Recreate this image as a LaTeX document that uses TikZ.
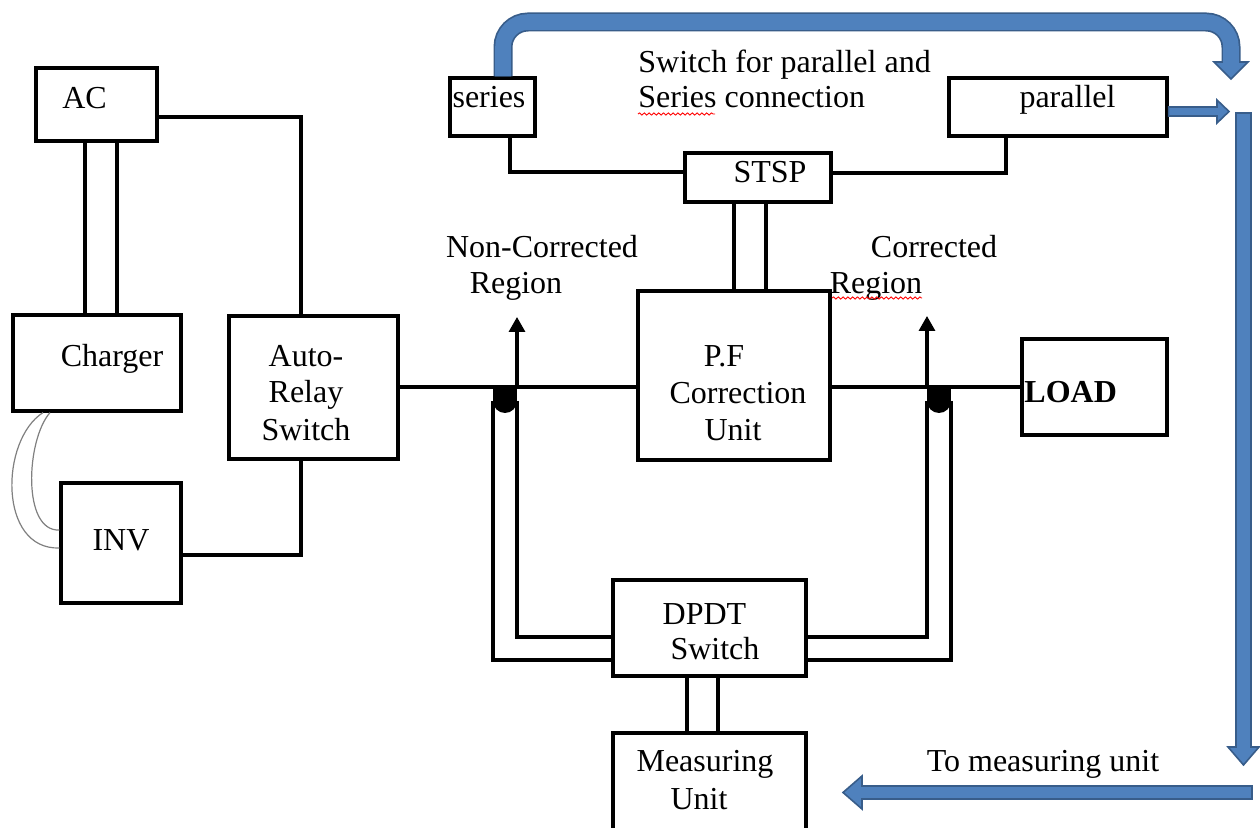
\documentclass[tikz,border=0pt]{standalone}
\usepackage{fontspec}
\setmainfont{Liberation Serif}
\usetikzlibrary{arrows.meta,decorations.pathmorphing}
\definecolor{blueIn}{HTML}{4F81BD}
\definecolor{blueOut}{HTML}{385D8A}
\begin{document}
\begin{tikzpicture}[x=0.5pt,y=-0.5pt,
  box/.style={draw, inner sep=0pt, line width=1.6pt},
  lbl/.style={anchor=base, inner sep=0pt, font=\fontsize{16}{18.5}\selectfont},
  wire/.style={line width=1.6pt},
  thinwire/.style={line width=0.6pt, draw=gray},
  uparrow/.style={wire, -{Triangle[width=8pt,length=7.5pt]}},
  flow/.style={fill=blueIn, draw=blueOut, line width=0.8pt, line join=miter},
  spell/.style={draw=red, line width=0.45pt, decorate, decoration={snake, amplitude=0.55pt, segment length=2.4pt}}
]
\useasboundingbox (0,0) rectangle (1260,828);
\fill[white] (0,0) rectangle (1260,828);
\clip (0,0) rectangle (1260,828);

% ---------- boxes ----------
\node[box, minimum width=60.5pt, minimum height=36.5pt] (ac) at (96.5,104.5) {};
\node[box, minimum width=84pt, minimum height=48pt] (charger) at (97,363) {};
\node[box, minimum width=84.5pt, minimum height=71.5pt] (auto) at (313.5,387.5) {};
\node[box, minimum width=60pt, minimum height=60pt] (inv) at (121,543) {};
\node[box, minimum width=96pt, minimum height=84.5pt] (pf) at (734,375.5) {};
\node[box, minimum width=72.5pt, minimum height=48pt] (load) at (1094.5,387) {};
\node[box, minimum width=96.5pt, minimum height=48pt] (dpdt) at (709.5,628) {};
\node[box, minimum width=96.5pt, minimum height=63.5pt] (meas) at (709.5,796.5) {};
\node[box, minimum width=42.5pt, minimum height=29pt] (series) at (492.5,107) {};
\node[box, minimum width=109pt, minimum height=29pt] (parallel) at (1058,107) {};
\node[box, minimum width=73pt, minimum height=24.5pt] (stsp) at (758,177.5) {};

% ---------- texts ----------
\node[lbl] (acT) at (84.5,109) {AC};
\node[lbl] (chT) at (112,367) {Charger};
\node[lbl] (auT1) at (306,367) {Auto-};
\node[lbl] (auT2) at (306,403) {Relay};
\node[lbl] (auT3) at (306,441) {Switch};
\node[lbl] (invT) at (121,551) {INV};
\node[lbl] (pfT1) at (724,367) {P.F};
\node[lbl] (pfT2) at (738,404) {Correction};
\node[lbl] (pfT3) at (733,441) {Unit};
\node[lbl, anchor=base west, font=\fontsize{16}{18.5}\selectfont\bfseries] (loadT) at (1024,403) {LOAD};
\node[lbl] (dpT1) at (704.5,625) {DPDT};
\node[lbl] (dpT2) at (715,660) {Switch};
\node[lbl] (msT1) at (705,772) {Measuring};
\node[lbl] (msT2) at (699,810) {Unit};
\node[lbl] (serT) at (489,108) {series};
\node[lbl] (parT) at (1067.5,108) {parallel};
\node[lbl] (stT) at (770,183) {STSP};
\node[lbl, anchor=base west] (swT1) at (638,73) {Switch for parallel and};
\node[lbl, anchor=base west] (swT2) at (638,108) {Series connection};
\node[lbl] (ncT1) at (542,258) {Non-Corrected};
\node[lbl] (ncT2) at (516,294) {Region};
\node[lbl] (cT1) at (934,258) {Corrected};
\node[lbl] (cT2) at (876,294) {Region};
\node[lbl] (tmT) at (1043,772) {To measuring unit};

% spell-check underlines
\draw[spell] (638,114) -- (715,114);
\draw[spell] (832,298) -- (922,298);

% ---------- connectors ----------
\draw[wire] (85,0 |- ac.south) -- (85,0 |- charger.north);
\draw[wire] (117,0 |- ac.south) -- (117,0 |- charger.north);
\draw[wire] (ac.east |- 0,117) -| (301,0 |- auto.north);
\draw[wire] (301,0 |- auto.south) |- (inv.east |- 0,555);
\draw[thinwire] (43,0 |- charger.south) .. controls (0,440) and (-2,550) .. (inv.west |- 0,548);
\draw[thinwire] (50,0 |- charger.south) .. controls (26,440) and (22,532) .. (inv.west |- 0,530);

\draw[wire] (auto.east |- 0,387) -- (pf.west |- 0,387);
\draw[wire] (pf.east |- 0,387) -- (load.west);

\coordinate (ncJ) at (505,387);
\coordinate (cJ) at (939,387);
\coordinate (ncTip) at (517,317);
\coordinate (cTip) at (927,316);
\fill (493,387) rectangle (517,401);
\fill (505,401) circle[radius=6pt];
\fill (927,387) rectangle (951,401);
\fill (939,401) circle[radius=6pt];
\draw[uparrow] (517,387) -- (ncTip);
\draw[uparrow] (927,387) -- (cTip);

\draw[wire] (493,401) |- (dpdt.west |- 0,660);
\draw[wire] (517,401) |- (dpdt.west |- 0,637);
\draw[wire] (927,401) |- (dpdt.east |- 0,637);
\draw[wire] (951,401) |- (dpdt.east |- 0,660);

\draw[wire] (687,0 |- dpdt.south) -- (687,0 |- meas.north);
\draw[wire] (718,0 |- dpdt.south) -- (718,0 |- meas.north);

\draw[wire] (734,0 |- stsp.south) -- (734,0 |- pf.north);
\draw[wire] (766,0 |- stsp.south) -- (766,0 |- pf.north);

\draw[wire] (510,0 |- series.south) |- (stsp.west |- 0,172);
\draw[wire] (1006,0 |- parallel.south) |- (stsp.east |- 0,173);

% ---------- blue flow arrows ----------
\coordinate (topEnd) at (1231,63);
\filldraw[flow] (1214,62) -- (1248,62) -- (1231,79) -- cycle;
\draw[blueOut, line width=9.5pt, rounded corners=12.5pt] (503,0 |- series.north) -- (503,22) -- (1231,22) -- (topEnd);
\draw[blueIn, line width=7.8pt, rounded corners=12.5pt] (503,0 |- series.north) -- (503,22) -- (1231,22) -- (1231,64);

\filldraw[flow] (parallel.east |- 0,107) -- (1217,107) -- (1217,100) -- (1229,111.5) -- (1217,123) -- (1217,116) -- (parallel.east |- 0,116) -- cycle;

\filldraw[flow] (1236,113) -- (1251,113) -- (1251,747) -- (1259,747) -- (1243.5,765) -- (1228,747) -- (1236,747) -- cycle;

\filldraw[flow] (1252,786) -- (1252,799) -- (862,799) -- (862,809) -- (843,792.5) -- (862,776) -- (862,786) -- cycle;

\end{tikzpicture}
\end{document}
